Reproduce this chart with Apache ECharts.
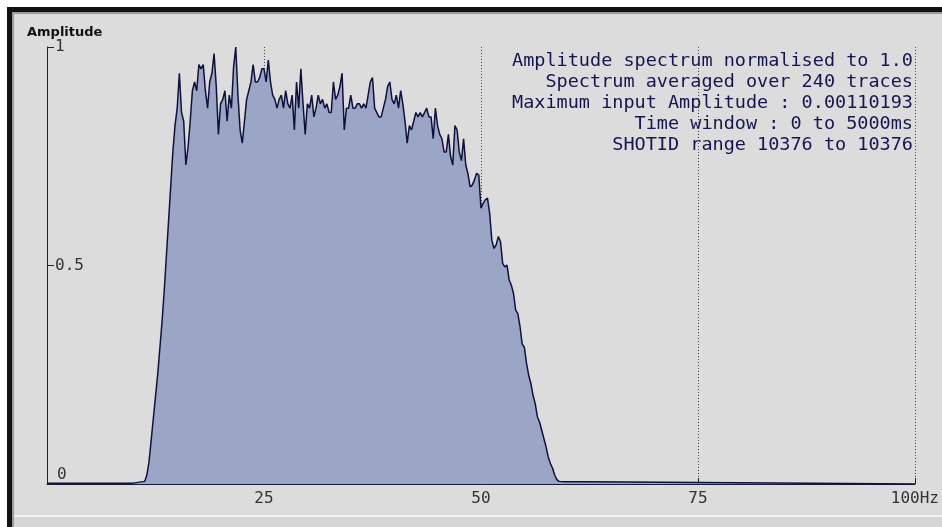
<!DOCTYPE html>
<html>
<head>
<meta charset="utf-8">
<title>Amplitude spectrum</title>
<script src="https://cdn.jsdelivr.net/npm/echarts@6/dist/echarts.min.js"></script>
<style>
  html, body { margin: 0; padding: 0; background: #fff; }
  #wrap { position: relative; width: 942px; height: 527px; overflow: hidden; }
  #chart { position: absolute; left: 0; top: 0; width: 942px; height: 527px; }
  .edge { position: absolute; pointer-events: none; }
</style>
</head>
<body>
<div id="wrap">
  <div id="chart"></div>
  <!-- window frame -->
  <div class="edge" style="left:0;top:0;width:942px;height:7px;background:#fff"></div>
  <div class="edge" style="left:0;top:0;width:7px;height:527px;background:#fff"></div>
  <div class="edge" style="left:7px;top:7px;width:935px;height:5px;background:#111"></div>
  <div class="edge" style="left:7px;top:7px;width:5px;height:520px;background:#111"></div>
  <div class="edge" style="left:12px;top:12px;width:930px;height:2px;background:#9a9a9a"></div>
  <div class="edge" style="left:12px;top:12px;width:2px;height:515px;background:#9a9a9a"></div>
  <div class="edge" style="left:14px;top:515px;width:928px;height:2px;background:#f2f2f2"></div>
  <div class="edge" style="left:14px;top:517px;width:928px;height:10px;background:#d6d6d6"></div>
</div>
<script>
// amplitude spectrum (normalised), sampled every 0.25 Hz from 11.5 Hz
const spectrumStart = 11.5
const spectrumStep = 0.25
const amplitude = [
  0.02, 0.05, 0.10, 0.15, 0.20, 0.25, 0.31, 0.37, 0.44, 0.52, 0.60, 0.68, 0.76, 0.82,
  0.86, 0.94, 0.85, 0.83, 0.73, 0.77, 0.83, 0.90, 0.92, 0.90, 0.96, 0.95, 0.96, 0.90,
  0.86, 0.92, 0.94, 0.985, 0.91, 0.80, 0.87, 0.88, 0.90, 0.83, 0.89, 0.86, 0.955, 1.0,
  0.89, 0.81, 0.78, 0.83, 0.88, 0.90, 0.92, 0.96, 0.92, 0.92, 0.93, 0.95, 0.95, 0.92,
  0.97, 0.92, 0.89, 0.88, 0.86, 0.88, 0.89, 0.86, 0.90, 0.87, 0.86, 0.89, 0.81, 0.92,
  0.86, 0.95, 0.87, 0.80, 0.87, 0.86, 0.89, 0.84, 0.86, 0.89, 0.87, 0.88, 0.86, 0.87,
  0.85, 0.85, 0.92, 0.88, 0.89, 0.91, 0.94, 0.81, 0.86, 0.86, 0.89, 0.86, 0.86, 0.87,
  0.87, 0.86, 0.87, 0.86, 0.89, 0.92, 0.93, 0.86, 0.85, 0.84, 0.84, 0.86, 0.88, 0.91,
  0.92, 0.88, 0.87, 0.89, 0.86, 0.90, 0.87, 0.83, 0.78, 0.82, 0.81, 0.83, 0.85, 0.84,
  0.85, 0.84, 0.85, 0.86, 0.84, 0.84, 0.79, 0.86, 0.82, 0.80, 0.79, 0.76, 0.76, 0.80,
  0.75, 0.73, 0.82, 0.81, 0.76, 0.74, 0.79, 0.73, 0.71, 0.68,
  0.684, 0.696, 0.711, 0.707, 0.631, 0.642, 0.650, 0.654, 0.62, 0.558, 0.539, 0.547,
  0.566, 0.555, 0.505, 0.497, 0.501, 0.467, 0.455, 0.436, 0.398, 0.39, 0.36, 0.32,
  0.313, 0.276, 0.249, 0.23, 0.203, 0.184, 0.154, 0.142, 0.123, 0.104, 0.085, 0.062,
  0.047, 0.036, 0.02, 0.01
]
// flat parts either side of the pass band
const lowFreq = [0, 9.9, 10.0, 11.25]
const lowAmp = [0.002, 0.002, 0.006, 0.006]
const tailFreq = [59, 59.5, 62.2, 62.4, 88, 88.2, 100]
const tailAmp = [0.006, 0.005, 0.005, 0.002, 0.002, 0, 0]

const xTicks = [0, 25, 50, 75, 100]
const annotation = [
  'Amplitude spectrum normalised to 1.0',
  'Spectrum averaged over 240 traces',
  'Maximum input Amplitude : 0.00110193',
  'Time window : 0 to 5000ms',
  'SHOTID range 10376 to 10376'
]

function buildSeries() {
  const data = []
  lowFreq.forEach((f, i) => data.push([f, lowAmp[i]]))
  amplitude.forEach((a, i) => data.push([spectrumStart + i * spectrumStep, a]))
  tailFreq.forEach((f, i) => data.push([f, tailAmp[i]]))
  return data
}

const chart = echarts.init(document.getElementById('chart'))
chart.setOption({
  backgroundColor: '#dcdcdc',
  animation: false,
  title: {
    text: 'Amplitude',
    left: 22,
    top: 21,
    textStyle: {
      fontFamily: 'DejaVu Sans',
      fontSize: 13,
      fontWeight: 'bold',
      color: '#111'
    }
  },
  grid: {
    left: 47,
    right: 27,
    top: 47,
    bottom: 43
  },
  xAxis: {
    type: 'value',
    min: xTicks[0],
    max: xTicks[xTicks.length - 1],
    interval: 25,
    axisLine: { lineStyle: { color: '#1a1a3c', width: 1 }},
    axisTick: { inside: true, length: 6, lineStyle: { color: '#1a1a3c' }},
    axisLabel: {
      showMinLabel: false,
      margin: 7,
      fontFamily: 'DejaVu Sans Mono',
      fontSize: 16,
      color: '#333',
      formatter: (v) => v === 100 ? '100Hz' : String(v)
    },
    splitLine: {
      show: true,
      lineStyle: { color: '#444', type: [1, 2], width: 1 }
    }
  },
  yAxis: {
    type: 'value',
    min: 0,
    max: 1,
    interval: 0.5,
    axisLine: { show: true, lineStyle: { color: '#222', width: 1 }},
    axisTick: { show: true, inside: true, length: 7, lineStyle: { color: '#222' }},
    axisLabel: {
      inside: true,
      margin: 8,
      fontFamily: 'DejaVu Sans Mono',
      fontSize: 16,
      color: '#333',
      formatter: (v) => v === 0 ? '{z|0}' : '{n|' + v + '}',
      rich: {
        z: { padding: [0, 0, 18, 2], fontFamily: 'DejaVu Sans Mono', fontSize: 16, color: '#333' },
        n: { fontFamily: 'DejaVu Sans Mono', fontSize: 16, color: '#333' }
      }
    },
    splitLine: { show: false }
  },
  graphic: [{
    type: 'text',
    x: 913,
    y: 51,
    style: {
      text: annotation.join('\n'),
      align: 'right',
      verticalAlign: 'top',
      lineHeight: 21,
      fontFamily: 'DejaVu Sans Mono',
      fontSize: 18.5,
      fill: '#15154f'
    }
  }],
  series: [{
    type: 'line',
    data: buildSeries(),
    showSymbol: false,
    lineStyle: { color: '#10103c', width: 1.5 },
    areaStyle: { color: '#9ba6c6', opacity: 1 }
  }]
})
</script>
</body>
</html>
